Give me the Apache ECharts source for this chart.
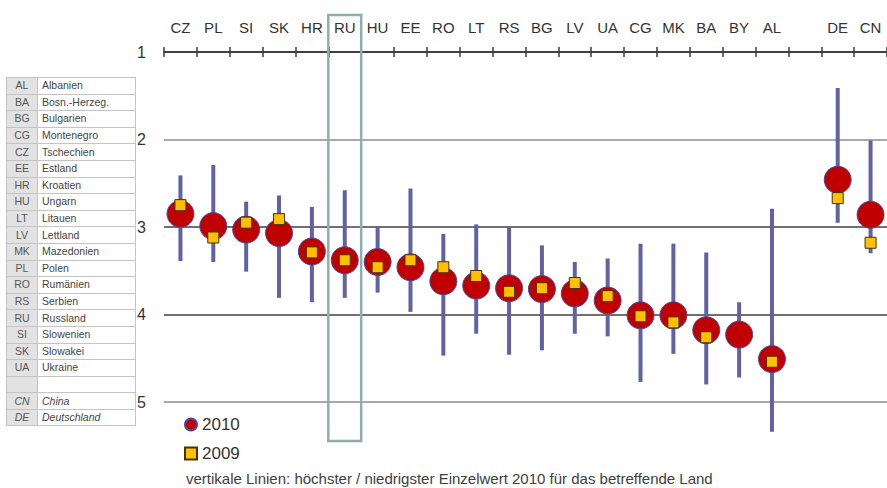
<!DOCTYPE html>
<html>
<head>
  <meta charset="utf-8">
  <title>Länderwerte 2010 / 2009</title>
  <style>
    body { margin: 0; background: #fff; }
    #main { position: absolute; left: 0; top: 0; width: 887px; height: 488px; }
    #codes { position: absolute; left: 6px; top: 77px; border-collapse: collapse; font-family: "Liberation Sans Narrow", "Liberation Sans", sans-serif; font-size: 10.5px; }
    #codes td { height: 15.6px; padding: 0; border: 1px solid #c4c4c4; line-height: 15px; }
    #codes td.c { width: 30px; background: #e2e2e2; color: #555; text-align: center; }
    #codes td.n { width: 93px; color: #444; padding-left: 4px; }
    #codes tr.it td { font-style: italic; }
  </style>
</head>
<body>
  <div id="main"></div>
  <table id="codes"></table>
  <script src="https://cdn.jsdelivr.net/npm/echarts@6/dist/echarts.min.js"></script>
  <script>
    // Länder in der Reihenfolge der Achse (leere Spalte vor DE)
    const categories = ['CZ', 'PL', 'SI', 'SK', 'HR', 'RU', 'HU', 'EE', 'RO', 'LT', 'RS', 'BG', 'LV', 'UA', 'CG', 'MK', 'BA', 'BY', 'AL', '', 'DE', 'CN'];
    const values2010 = [2.85, 2.99, 3.03, 3.07, 3.28, 3.38, 3.40, 3.46, 3.62, 3.67, 3.70, 3.71, 3.76, 3.84, 4.01, 4.01, 4.18, 4.23, 4.51, null, 2.46, 2.86];
    const values2009 = [2.75, 3.12, 2.95, 2.91, 3.29, 3.38, 3.46, 3.38, 3.46, 3.56, 3.74, 3.70, 3.64, 3.79, 4.02, 4.09, 4.26, null, 4.54, null, 2.67, 3.18];
    // höchster / niedrigster Einzelwert 2010
    const best2010 = [2.41, 2.29, 2.71, 2.64, 2.77, 2.58, 2.99, 2.56, 3.08, 2.97, 3.00, 3.21, 3.40, 3.36, 3.19, 3.19, 3.29, 3.86, 2.79, null, 1.41, 2.01];
    const worst2010 = [3.39, 3.40, 3.51, 3.81, 3.86, 3.81, 3.75, 3.97, 4.47, 4.22, 4.46, 4.41, 4.22, 4.25, 4.77, 4.45, 4.80, 4.72, 5.34, null, 2.95, 3.30];
    const yTicks = [1, 2, 3, 4, 5];
    const highlight = 'RU';

    const tableCodes = ['AL', 'BA', 'BG', 'CG', 'CZ', 'EE', 'HR', 'HU', 'LT', 'LV', 'MK', 'PL', 'RO', 'RS', 'RU', 'SI', 'SK', 'UA', '', 'CN', 'DE'];
    const tableNames = ['Albanien', 'Bosn.-Herzeg.', 'Bulgarien', 'Montenegro', 'Tschechien', 'Estland', 'Kroatien', 'Ungarn', 'Litauen', 'Lettland', 'Mazedonien', 'Polen', 'Rumänien', 'Serbien', 'Russland', 'Slowenien', 'Slowakei', 'Ukraine', '', 'China', 'Deutschland'];
    const footnote = 'vertikale Linien: höchster / niedrigster Einzelwert 2010 für das betreffende Land';

    // Tabelle links
    const table = document.getElementById('codes');
    tableCodes.forEach((code, i) => {
      const tr = document.createElement('tr');
      if (code === 'CN' || code === 'DE') tr.className = 'it';
      tr.innerHTML = '<td class="c">' + code + '</td><td class="n">' + tableNames[i] + '</td>';
      table.appendChild(tr);
    });

    const FONT = '"Liberation Sans Narrow", "Liberation Sans", sans-serif';
    const rangeData = [];
    best2010.forEach((v, i) => {
      if (v != null) rangeData.push([i, v, worst2010[i]]);
    });

    const option = {
      animation: false,
      textStyle: { fontFamily: FONT },
      title: {
        text: footnote,
        left: 181,
        top: 466,
        textStyle: { fontSize: 15, fontWeight: 'normal', color: '#404040', fontFamily: FONT }
      },
      legend: {
        data: ['2010', '2009'],
        orient: 'vertical',
        left: 179,
        top: 411,
        itemWidth: 12,
        itemHeight: 12,
        itemGap: 12,
        textStyle: { fontSize: 17, color: '#333' }
      },
      grid: { left: 164, top: 52, width: 729, height: 350 },
      xAxis: [{
        type: 'category',
        position: 'top',
        data: categories,
        axisLine: { lineStyle: { color: '#3a3a3a', width: 1.5 } },
        axisTick: { show: true, interval: 0, length: 5, lineStyle: { color: '#3a3a3a', width: 1.5 } },
        axisLabel: { interval: 0, margin: 17, fontSize: 15, color: '#333' }
      }, {
        type: 'category',
        position: 'top',
        data: categories,
        axisLine: { show: false },
        axisTick: { show: true, interval: 0, inside: true, length: 5, lineStyle: { color: '#3a3a3a', width: 1.5 } },
        axisLabel: { show: false }
      }],
      yAxis: {
        type: 'value',
        inverse: true,
        min: yTicks[0],
        max: yTicks[yTicks.length - 1],
        interval: 1,
        axisLine: { show: false },
        axisTick: { show: false },
        axisLabel: { fontSize: 16, color: '#333', margin: 18 },
        splitLine: { lineStyle: { color: ['#555', '#a8a8a8', '#707070', '#707070', '#a8a8a8'], width: 2 } }
      },
      series: [{
        name: 'range',
        type: 'custom',
        clip: false,
        z: 2,
        data: rangeData,
        renderItem(params, api) {
          const a = api.coord([api.value(0), api.value(1)]);
          const b = api.coord([api.value(0), api.value(2)]);
          return {
            type: 'line',
            shape: { x1: a[0], y1: a[1], x2: b[0], y2: b[1] },
            style: { stroke: '#6062a2', lineWidth: 4 }
          };
        }
      }, {
        name: '2010',
        type: 'scatter',
        z: 3,
        symbol: 'circle',
        symbolSize: 27,
        itemStyle: { color: '#c00000', borderColor: '#4a48a0', borderWidth: 1, opacity: 1 },
        data: values2010.map(v => (v == null ? '-' : v))
      }, {
        name: '2009',
        type: 'scatter',
        z: 4,
        symbol: 'rect',
        symbolSize: 11,
        itemStyle: { color: '#ffc000', borderColor: '#4a3200', borderWidth: 1, opacity: 1 },
        data: values2009.map(v => (v == null ? '-' : v))
      }]
    };

    const chart = echarts.init(document.getElementById('main'), null, { renderer: 'svg' });
    chart.setOption(option);

    // Rahmen um die hervorgehobene Spalte
    const idx = categories.indexOf(highlight);
    const cx = chart.convertToPixel({ xAxisIndex: 0 }, categories[idx]);
    const bw = chart.convertToPixel({ xAxisIndex: 0 }, categories[idx + 1]) - cx;
    chart.setOption({
      graphic: [{
        type: 'rect',
        z: 10,
        shape: { x: cx - bw / 2, y: 15, width: bw, height: 426 },
        style: { fill: 'none', stroke: '#8eadab', lineWidth: 2.5 }
      }]
    });
  </script>
</body>
</html>
